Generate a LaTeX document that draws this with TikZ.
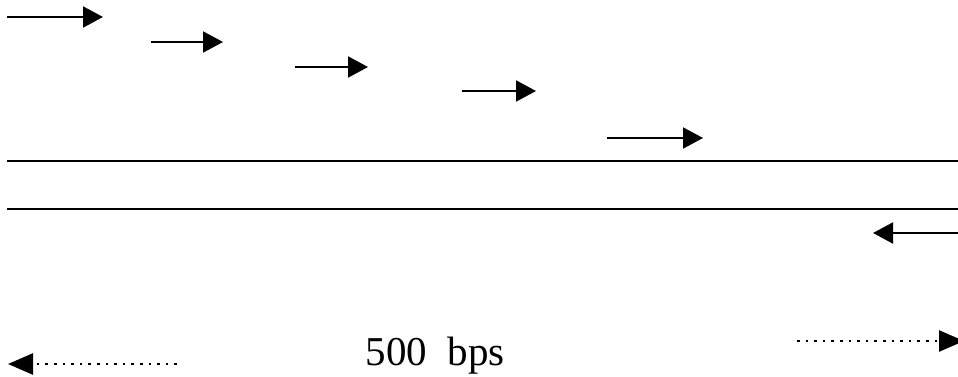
\documentclass[tikz,border=0pt]{standalone}
\usepackage{fontspec}
\setmainfont{Liberation Serif}
\usetikzlibrary{arrows.meta}
\begin{document}
\begin{tikzpicture}[x=1pt,y=-1pt,
  read/.style={line width=2pt,-{Triangle[length=20pt,width=21pt]}},
  dots/.style={line width=2.6pt,dash pattern=on 2.6pt off 6pt,-{Triangle[length=25pt,width=21pt]}},
  strand/.style={line width=2pt}]
\useasboundingbox (0,0) rectangle (958,377);
\clip (0,0) rectangle (958,377);
% forward reads
\coordinate (r1s) at (7,17);   \coordinate (r1e) at (103,17);
\coordinate (r2s) at (151,42); \coordinate (r2e) at (223,42);
\coordinate (r3s) at (295,67); \coordinate (r3e) at (368,67);
\coordinate (r4s) at (462,91); \coordinate (r4e) at (536,91);
\coordinate (r5s) at (607,138);\coordinate (r5e) at (703,138);
\draw[read] (r1s) -- (r1e);
\draw[read] (r2s) -- (r2e);
\draw[read] (r3s) -- (r3e);
\draw[read] (r4s) -- (r4e);
\draw[read] (r5s) -- (r5e);
% double strand
\coordinate (a1) at (7,161);  \coordinate (a2) at (960,161);
\coordinate (b1) at (7,209);  \coordinate (b2) at (960,209);
\draw[strand] (a1) -- (a2);
\draw[strand] (b1) -- (b2);
% reverse read
\coordinate (rvs) at (962,233); \coordinate (rve) at (873,233);
\draw[read] (rvs) -- (rve);
% insert size span
\coordinate (ls) at (177,364); \coordinate (le) at (8,364);
\draw[dots] (ls) -- (le);
\coordinate (rs) at (797,341); \coordinate (re) at (964,341);
\draw[dots] (rs) -- (re);
\node[font=\fontsize{41}{41}\selectfont,anchor=base] (lbl) at (435,365) {500\ \ bps};
\end{tikzpicture}
\end{document}
